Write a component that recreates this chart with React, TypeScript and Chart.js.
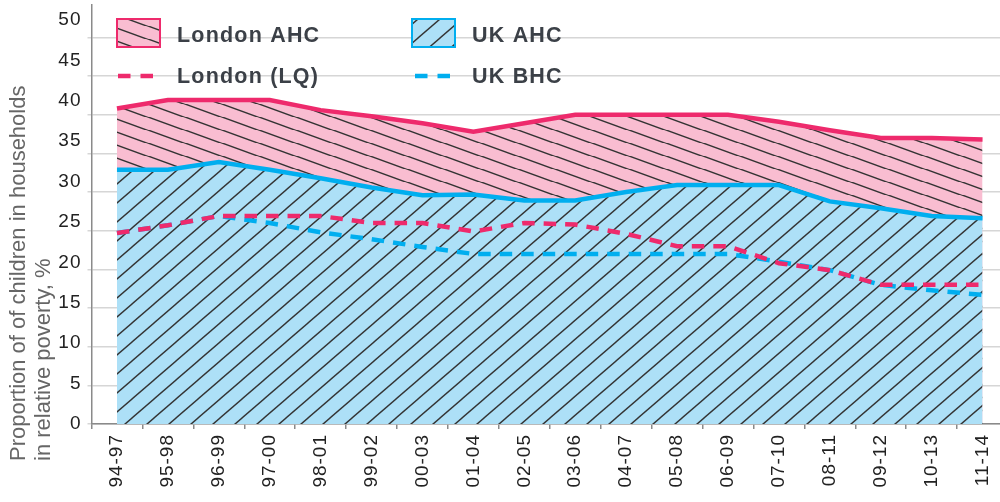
import React, { useEffect, useRef } from 'react';
import { Chart, registerables } from 'chart.js';

Chart.register(...registerables);

// ---- data ----
const categories = [
  '94-97', '95-98', '96-99', '97-00', '98-01', '99-02', '00-03', '01-04', '02-05',
  '03-06', '04-07', '05-08', '06-09', '07-10', '08-11', '09-12', '10-13', '11-14',
];
const londonAHC = [40.8, 41.9, 41.9, 41.9, 40.6, 39.8, 38.9, 37.8, 38.9, 40.0, 40.0, 40.0, 40.0, 39.1, 38.0, 37.0, 37.0, 36.8];
const ukAHC = [32.9, 32.9, 33.9, 32.9, 31.8, 30.6, 29.6, 29.7, 28.9, 28.9, 30.0, 30.9, 30.9, 30.9, 28.8, 27.9, 26.9, 26.6];
const londonLQ = [24.7, 25.7, 26.9, 26.9, 26.9, 26.0, 26.0, 24.9, 26.0, 25.8, 24.6, 23.0, 23.0, 20.8, 19.9, 18.0, 18.0, 18.0];
const ukBHC = [24.7, 25.7, 26.9, 26.0, 24.8, 23.9, 22.9, 22.0, 22.0, 22.0, 22.0, 22.0, 22.0, 21.0, 19.9, 18.0, 17.3, 16.7];
const yTickValues = [0, 5, 10, 15, 20, 25, 30, 35, 40, 45, 50];
const seriesLabels = ['London AHC', 'UK AHC', 'London (LQ)', 'UK BHC'];
const yTitleLines = ['Proportion of of children in households', 'in relative poverty, %'];

// ---- styles ----
const PINK = '#ee2a6c';
const BLUE = '#00aeef';
const PINK_FILL = '#f9bdd1';
const BLUE_FILL = '#ade0f7';
const HATCH = '#333333';
const FONT = '"Liberation Sans", Arial, Helvetica, sans-serif';

function makeHatch(ctx: CanvasRenderingContext2D, bg: string, w: number, h: number, dir: string) {
  const c = document.createElement('canvas');
  c.width = w;
  c.height = h;
  const g = c.getContext('2d')!;
  g.fillStyle = bg;
  g.fillRect(0, 0, w, h);
  g.strokeStyle = HATCH;
  g.lineWidth = 1.4;
  for (const dx of [-w, 0, w]) {
    g.beginPath();
    if (dir === '/') {
      g.moveTo(dx - w, 2 * h);
      g.lineTo(dx + 2 * w, -h);
    } else {
      g.moveTo(dx - w, -h);
      g.lineTo(dx + 2 * w, 2 * h);
    }
    g.stroke();
  }
  return ctx.createPattern(c, 'repeat')!;
}

function noPad(s: any) {
  s.paddingTop = 0;
  s.paddingBottom = 0;
  s.paddingLeft = 0;
  s.paddingRight = 0;
}

export default function App() {
  const ref = useRef<HTMLCanvasElement>(null);

  useEffect(() => {
    const canvas = ref.current!;
    const ctx0 = canvas.getContext('2d')!;
    const pinkPattern = makeHatch(ctx0, PINK_FILL, 37, 13.5, '\\');
    const bluePattern = makeHatch(ctx0, BLUE_FILL, 22, 19, '/');

    const spacingPlugin = {
      id: 'spacing',
      beforeDraw(chart: any) {
        chart.ctx.letterSpacing = '1px';
      },
      afterDraw(chart: any) {
        chart.ctx.letterSpacing = '0px';
      },
    };

    const decorPlugin = {
      id: 'decor',
      afterDraw(chart: any) {
        const ctx = chart.ctx as any;
        // y-axis title
        ctx.save();
        ctx.letterSpacing = '0px';
        ctx.fillStyle = '#666666';
        ctx.font = `22px ${FONT}`;
        ctx.textAlign = 'left';
        ctx.textBaseline = 'alphabetic';
        ctx.translate(25, 461);
        ctx.rotate(-Math.PI / 2);
        ctx.fillText(yTitleLines[0], 0, 0);
        ctx.fillText(yTitleLines[1], 0, 25);
        ctx.restore();

        // legend
        const boxes = [
          { x: 117, y: 19, fill: pinkPattern, stroke: PINK, label: seriesLabels[0], tx: 177, ty: 41.7 },
          { x: 412, y: 19, fill: bluePattern, stroke: BLUE, label: seriesLabels[1], tx: 472, ty: 41.7 },
        ];
        const dashes = [
          { x1: 118, x2: 153, y: 76, color: PINK, label: seriesLabels[2], tx: 177, ty: 83 },
          { x1: 415, x2: 452, y: 76, color: BLUE, label: seriesLabels[3], tx: 472, ty: 83 },
        ];
        ctx.save();
        for (const b of boxes) {
          ctx.fillStyle = b.fill;
          ctx.fillRect(b.x, b.y, 43, 28);
          ctx.strokeStyle = b.stroke;
          ctx.lineWidth = 2;
          ctx.strokeRect(b.x, b.y, 43, 28);
        }
        for (const d of dashes) {
          ctx.beginPath();
          ctx.setLineDash([12.5, 10]);
          ctx.strokeStyle = d.color;
          ctx.lineWidth = 4.5;
          ctx.moveTo(d.x1, d.y);
          ctx.lineTo(d.x2, d.y);
          ctx.stroke();
        }
        ctx.setLineDash([]);
        ctx.fillStyle = '#3b4047';
        ctx.font = `bold 21.5px ${FONT}`;
        ctx.letterSpacing = '1.2px';
        ctx.textAlign = 'left';
        ctx.textBaseline = 'alphabetic';
        for (const t of [...boxes, ...dashes]) {
          ctx.fillText(t.label, t.tx, t.ty);
        }
        ctx.restore();
      },
    };

    const tickFont = { family: FONT, size: 19 };

    const chart = new Chart(canvas, {
      type: 'line',
      data: {
        labels: categories,
        datasets: [
          {
            label: seriesLabels[2], data: londonLQ, borderColor: PINK, borderWidth: 4.5,
            borderDash: [12.5, 9], fill: false, pointRadius: 0, xAxisID: 'x', yAxisID: 'y',
          },
          {
            label: seriesLabels[3], data: ukBHC, borderColor: BLUE, borderWidth: 4.5,
            borderDash: [12.5, 9], fill: false, pointRadius: 0, xAxisID: 'x', yAxisID: 'y',
          },
          {
            label: seriesLabels[1], data: ukAHC, borderColor: BLUE, borderWidth: 4.5,
            backgroundColor: bluePattern, fill: 'origin', pointRadius: 0, xAxisID: 'x', yAxisID: 'y',
          },
          {
            label: seriesLabels[0], data: londonAHC, borderColor: PINK, borderWidth: 4.5,
            backgroundColor: pinkPattern, fill: 'origin', pointRadius: 0, xAxisID: 'x', yAxisID: 'y',
          },
        ] as any,
      },
      options: {
        responsive: false,
        animation: false,
        layout: { padding: { top: 5, right: 2, left: 0, bottom: 0 } },
        plugins: { legend: { display: false }, tooltip: { enabled: false } },
        scales: {
          x: {
            type: 'category',
            offset: true,
            grid: { offset: true, drawOnChartArea: false, drawTicks: true, tickLength: 5, color: '#8a8a8a', lineWidth: 1.5 },
            border: { color: '#8a8a8a', width: 1.5 },
            ticks: { autoSkip: false, minRotation: 90, maxRotation: 90, padding: 5, color: '#222222', font: tickFont },
            afterFit: (s: any) => { s.height = 78; noPad(s); },
          },
          y: {
            type: 'linear',
            position: 'left',
            weight: 0,
            min: 0,
            max: 54.2,
            afterBuildTicks: (s: any) => { s.ticks = yTickValues.map((v) => ({ value: v })); },
            grid: { color: '#d6d6d6', lineWidth: 1.5, tickLength: 4, drawTicks: true },
            border: { color: '#8a8a8a', width: 1.5 },
            ticks: { display: false },
            afterFit: (s: any) => { s.width = 5; noPad(s); },
          },
          yL: {
            type: 'linear',
            position: 'left',
            weight: 10,
            min: 0,
            max: 51.86,
            afterBuildTicks: (s: any) => { s.ticks = yTickValues.map((v) => ({ value: v })); },
            grid: { display: false, drawTicks: false },
            border: { display: false },
            ticks: { padding: 5, color: '#222222', font: tickFont },
            afterFit: (s: any) => { s.width = 86.5; noPad(s); },
          },
        } as any,
      },
      plugins: [spacingPlugin, decorPlugin],
    });

    return () => chart.destroy();
  }, []);

  return (
    <div style={{ position: 'absolute', left: 0, top: 0, width: 1000, height: 502, overflow: 'hidden', background: '#fff' }}>
      <canvas ref={ref} width={1010} height={502} style={{ display: 'block' }} />
    </div>
  );
}
